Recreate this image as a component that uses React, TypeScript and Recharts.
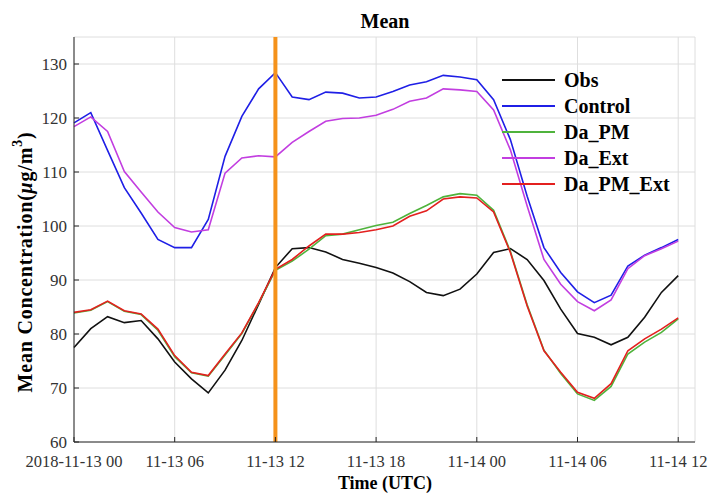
import React from "react";
import {
  LineChart,
  Line,
  XAxis,
  YAxis,
  CartesianGrid,
  ReferenceLine,
  Legend,
} from "recharts";

// hourly values, 2018-11-13 00 .. 2018-11-14 12 (UTC)
const hours = [
  0, 1, 2, 3, 4, 5, 6, 7, 8, 9, 10, 11, 12, 13, 14, 15, 16, 17, 18, 19, 20,
  21, 22, 23, 24, 25, 26, 27, 28, 29, 30, 31, 32, 33, 34, 35, 36,
];

const obs = [
  77.5, 81.0, 83.2, 82.1, 82.5, 79.1, 74.8, 71.7, 69.1, 73.3, 78.8, 85.5, 92.3,
  95.8, 96.0, 95.2, 93.8, 93.1, 92.3, 91.3, 89.7, 87.7, 87.1, 88.3, 91.1, 95.1,
  95.8, 93.8, 89.9, 84.6, 80.1, 79.4, 78.0, 79.4, 83.1, 87.7, 90.8,
];

const control = [
  119.1, 121.0, 114.0, 107.1, 102.4, 97.5, 96.0, 96.0, 101.2, 112.9, 120.3,
  125.4, 128.4, 123.9, 123.4, 124.8, 124.6, 123.7, 123.9, 124.9, 126.1, 126.7,
  127.9, 127.6, 127.1, 123.4, 116.0, 105.5, 96.0, 91.4, 87.8, 85.8, 87.2, 92.6,
  94.6, 96.0, 97.5,
];

const daPm = [
  83.9, 84.4, 86.0, 84.2, 83.6, 80.7, 75.8, 72.8, 72.2, 76.1, 80.1, 85.7, 91.8,
  93.5, 95.7, 98.2, 98.5, 99.3, 100.1, 100.7, 102.3, 103.8, 105.4, 106.0,
  105.7, 102.9, 95.3, 85.4, 77.0, 72.7, 68.9, 67.7, 70.3, 76.3, 78.5, 80.3,
  82.8,
];

const daExt = [
  118.4, 120.2, 117.5, 110.1, 106.3, 102.6, 99.7, 98.9, 99.3, 109.8, 112.6,
  113.0, 112.8, 115.5, 117.5, 119.4, 119.9, 120.0, 120.5, 121.6, 123.1, 123.7,
  125.4, 125.2, 124.9, 121.5, 114.1, 103.7, 93.8, 89.2, 86.0, 84.3, 86.3, 92.1,
  94.5, 95.8, 97.2,
];

const daPmExt = [
  84.0, 84.5, 86.1, 84.3, 83.7, 80.9, 76.0, 72.9, 72.3, 76.3, 80.2, 85.8, 92.0,
  93.8, 96.3, 98.5, 98.5, 98.8, 99.3, 100.0, 101.8, 102.8, 105.0, 105.4, 105.2,
  102.6, 95.1, 85.2, 76.9, 72.9, 69.2, 68.1, 70.8, 76.9, 79.1, 80.9, 83.0,
];

const xTicks = [0, 6, 12, 18, 24, 30, 36];
const xTickLabels = [
  "2018-11-13 00",
  "11-13 06",
  "11-13 12",
  "11-13 18",
  "11-14 00",
  "11-14 06",
  "11-14 12",
];
const yTicks = [60, 70, 80, 90, 100, 110, 120, 130];
const assimilationHour = 12;

const series = [
  { key: "obs", name: "Obs", color: "#111111" },
  { key: "control", name: "Control", color: "#1f1fe6" },
  { key: "daPm", name: "Da_PM", color: "#4fb33c" },
  { key: "daExt", name: "Da_Ext", color: "#c23ee0" },
  { key: "daPmExt", name: "Da_PM_Ext", color: "#e3201f" },
];

const data = hours.map((h, i) => ({
  h,
  obs: obs[i],
  control: control[i],
  daPm: daPm[i],
  daExt: daExt[i],
  daPmExt: daPmExt[i],
}));

const FONT = "'Liberation Serif', 'Times New Roman', serif";
const AXIS = "#262626";
const TICK_LEN = 5;

// MATLAB-style inward ticks
const BottomTick = ({ x, y, payload }: any) => {
  const idx = xTicks.indexOf(payload.value);
  return (
    <g>
      <line x1={x} x2={x} y1={y} y2={y - TICK_LEN} stroke={AXIS} />
      <text
        x={x}
        y={y + 25}
        textAnchor="middle"
        fontSize={16.5}
        fontFamily={FONT}
        fill="#333"
      >
        {xTickLabels[idx]}
      </text>
    </g>
  );
};

const TopTick = ({ x, y }: any) => (
  <line x1={x} x2={x} y1={y} y2={y + TICK_LEN} stroke={AXIS} />
);

const LeftTick = ({ x, y, payload }: any) => (
  <g>
    <line x1={x} x2={x + TICK_LEN} y1={y} y2={y} stroke={AXIS} />
    <text
      x={x - 7}
      y={y + 6}
      textAnchor="end"
      fontSize={17}
      fontFamily={FONT}
      fill="#333"
    >
      {payload.value}
    </text>
  </g>
);

const RightTick = ({ x, y }: any) => (
  <line x1={x} x2={x - TICK_LEN} y1={y} y2={y} stroke={AXIS} />
);

const renderLegend = () => (
  <div style={{ fontFamily: FONT }}>
    {series.map((s) => (
      <div
        key={s.key}
        style={{ display: "flex", alignItems: "center", height: 26 }}
      >
        <svg width={62} height={10}>
          <line x1={0} x2={53} y1={5} y2={5} stroke={s.color} strokeWidth={2} />
        </svg>
        <span style={{ fontSize: 20, fontWeight: "bold", color: "#000" }}>
          {s.name}
        </span>
      </div>
    ))}
  </div>
);

const YLabel = () => {
  const cx = 25;
  const cy = 262;
  return (
    <text
      x={cx}
      y={cy}
      transform={`rotate(-90 ${cx} ${cy})`}
      textAnchor="middle"
      dominantBaseline="central"
      fontSize={20}
      fontWeight="bold"
      fontFamily={FONT}
      letterSpacing={0.8}
      fill="#000"
    >
      Mean Concentration(
      <tspan fontStyle="italic">μ</tspan>g/m
      <tspan dy={-8} fontSize={14}>
        3
      </tspan>
      <tspan dy={8}>)</tspan>
    </text>
  );
};

export default function App() {
  return (
    <div style={{ position: "absolute", left: 0, top: 0, background: "#fff" }}>
      <LineChart
        width={710}
        height={494}
        data={data}
        margin={{ top: 37, right: 15, bottom: 0, left: 0 }}
      >
        <text
          x={385}
          y={28}
          textAnchor="middle"
          fontSize={20}
          fontWeight="bold"
          fontFamily={FONT}
        >
          Mean
        </text>
        <text
          x={385}
          y={489}
          textAnchor="middle"
          fontSize={18}
          fontWeight="bold"
          fontFamily={FONT}
        >
          Time (UTC)
        </text>
        <YLabel />

        <CartesianGrid stroke="#dedede" strokeWidth={1} />

        <XAxis
          dataKey="h"
          type="number"
          domain={[0, 37]}
          ticks={xTicks}
          height={52}
          tickSize={0}
          tickMargin={0}
          tickLine={false}
          axisLine={{ stroke: AXIS }}
          tick={<BottomTick />}
          interval={0}
        />
        <XAxis
          xAxisId="top"
          orientation="top"
          dataKey="h"
          type="number"
          domain={[0, 37]}
          ticks={xTicks}
          height={0}
          tickSize={0}
          tickMargin={0}
          tickLine={false}
          axisLine={{ stroke: AXIS }}
          tick={<TopTick />}
          interval={0}
        />
        <YAxis
          type="number"
          domain={[60, 135]}
          ticks={yTicks}
          width={74}
          tickSize={0}
          tickMargin={0}
          tickLine={false}
          axisLine={{ stroke: AXIS }}
          tick={<LeftTick />}
          interval={0}
          allowDataOverflow
        />
        <YAxis
          yAxisId="right"
          orientation="right"
          type="number"
          domain={[60, 135]}
          ticks={yTicks}
          width={0}
          tickSize={0}
          tickMargin={0}
          tickLine={false}
          axisLine={{ stroke: AXIS }}
          tick={<RightTick />}
          interval={0}
        />

        {series.map((s) => (
          <Line
            key={s.key}
            type="linear"
            dataKey={s.key}
            name={s.name}
            stroke={s.color}
            strokeWidth={1.6}
            dot={false}
            isAnimationActive={false}
          />
        ))}

        {/* 동화 시점 */}
        <ReferenceLine
          x={assimilationHour}
          stroke="#f5921b"
          strokeWidth={4}
        />

        <Legend
          layout="horizontal"
          verticalAlign="middle"
          align="center"
          content={renderLegend}
          wrapperStyle={{ top: 67, left: 502, width: 200 }}
        />
      </LineChart>
    </div>
  );
}
